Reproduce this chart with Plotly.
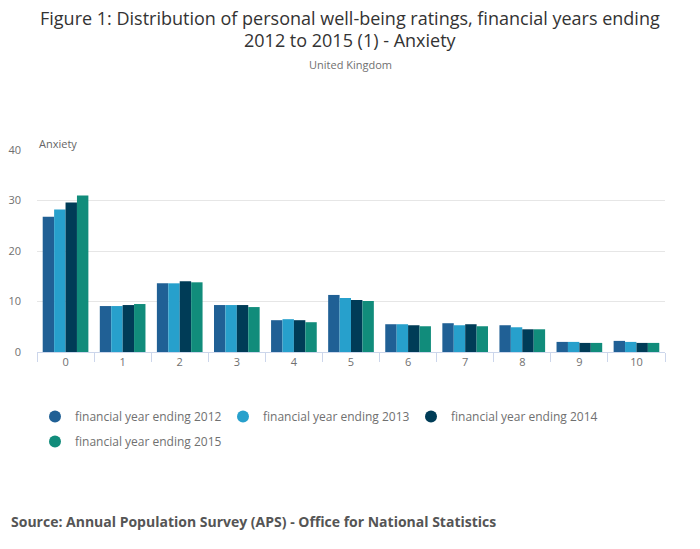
import plotly.graph_objects as go

categories = ["0", "1", "2", "3", "4", "5", "6", "7", "8", "9", "10"]
series_names = ["financial year ending 2012", "financial year ending 2013",
                "financial year ending 2014", "financial year ending 2015"]
fy2012 = [26.8, 9.1, 13.6, 9.3, 6.3, 11.3, 5.5, 5.7, 5.3, 2.0, 2.2]
fy2013 = [28.2, 9.1, 13.6, 9.3, 6.5, 10.7, 5.5, 5.3, 4.9, 2.0, 2.0]
fy2014 = [29.6, 9.3, 14.0, 9.3, 6.3, 10.3, 5.3, 5.5, 4.5, 1.8, 1.8]
fy2015 = [31.0, 9.5, 13.8, 8.9, 5.9, 10.1, 5.1, 5.1, 4.5, 1.8, 1.8]
colors = ["#206095", "#27a0cc", "#003c57", "#118c7b"]

fig = go.Figure()
for name, vals, col in zip(series_names, [fy2012, fy2013, fy2014, fy2015], colors):
    fig.add_trace(go.Bar(x=categories, y=vals, name=name, marker_color=col,
                         marker_line_width=0, showlegend=False))
for name, col in zip(series_names, colors):
    fig.add_trace(go.Scatter(x=[None], y=[None], mode="markers", name=name,
                             legendgroup=name,
                             marker=dict(symbol="circle", size=12, color=col)))

font = "Open Sans, sans-serif"
L, T, B, R = 29, 142, 205, 43
H = 549 - T - B
W = 700 - L - R


def py(px):
    # figure pixel (from top) -> paper y
    return 1 - (px - T) / H


def pxx(px):
    return (px - L) / W


fig.update_layout(
    width=700, height=549,
    font=dict(family=font, color="#707070", size=11),
    paper_bgcolor="white", plot_bgcolor="white",
    margin=dict(l=L, r=R, t=T, b=B, autoexpand=False),
    barmode="group", bargap=0.2, bargroupgap=0,
    xaxis=dict(type="category", showline=True, linecolor="#ccd6eb", linewidth=1,
               ticks="outside", tickson="boundaries", ticklen=9, tickcolor="#ccd6eb",
               tickfont=dict(size=11, color="#707070"), showgrid=False,
               automargin=False),
    yaxis=dict(range=[0, 40], dtick=10, gridcolor="#e6e6e6", zeroline=False,
               showline=False, tickfont=dict(size=11, color="#707070"),
               ticklabelstandoff=15, automargin=False),
    legend=dict(orientation="h", x=pxx(27), xanchor="left", y=py(394), yanchor="top",
                font=dict(size=12, color="#707070"), entrywidth=143,
                itemwidth=30, tracegroupgap=6),
    annotations=[
        dict(text="Figure 1: Distribution of personal well-being ratings, financial years ending",
             xref="paper", yref="paper", x=pxx(342), y=py(10), xanchor="center",
             yanchor="middle", showarrow=False,
             font=dict(size=18, color="#333333")),
        dict(text="2012 to 2015 (1) - Anxiety",
             xref="paper", yref="paper", x=pxx(342), y=py(32), xanchor="center",
             yanchor="middle", showarrow=False,
             font=dict(size=18, color="#333333")),
        dict(text="United Kingdom", xref="paper", yref="paper", x=pxx(342), y=py(56),
             xanchor="center", yanchor="middle", showarrow=False,
             font=dict(size=11, color="#707070")),
        dict(text="Anxiety", xref="paper", yref="paper", x=pxx(29), y=py(135),
             xanchor="left", yanchor="middle", showarrow=False,
             font=dict(size=11, color="#666666")),
        dict(text="<b>Source: Annual Population Survey (APS) - Office for National Statistics</b>",
             xref="paper", yref="paper", x=pxx(1), y=py(513),
             xanchor="left", yanchor="middle", showarrow=False,
             font=dict(size=14, color="#555555")),
    ],
)

fig.write_html("out.html")
